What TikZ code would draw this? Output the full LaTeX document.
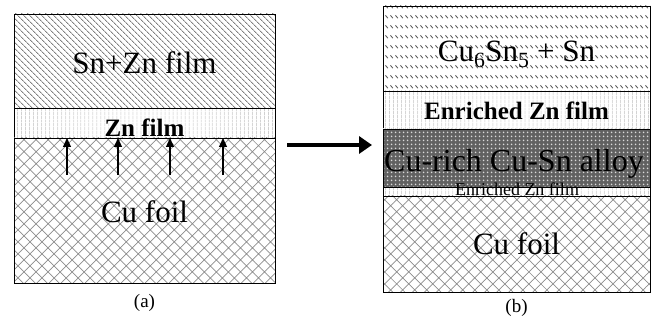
\documentclass[tikz,border=0pt]{standalone}
\usepackage{fontspec}
\setmainfont{Liberation Serif}
\usetikzlibrary{arrows.meta,positioning,patterns.meta}

% rows of short slanted dashes for the Cu6Sn5 layer
\pgfdeclarepattern{
  name=dashrows,
  type=uncolored,
  bottom left={\pgfpoint{0pt}{0pt}},
  top right={\pgfpoint{5pt}{10pt}},
  tile size={\pgfpoint{5pt}{10pt}},
  code={
    \pgfsetlinewidth{1pt}
    \pgfpathmoveto{\pgfpoint{0.5pt}{5pt}}
    \pgfpathlineto{\pgfpoint{3.5pt}{2pt}}
    \pgfusepath{stroke}
  }
}

\tikzset{
  layer/.style={draw, line width=0.8pt, inner sep=0pt, outer sep=0pt, anchor=north},
  snzn/.style={pattern={Lines[angle=-45,distance=4pt,line width=1pt]}, pattern color=black!50},
  znfilm/.style={pattern={Lines[angle=90,distance=4pt,line width=0.7pt]}, pattern color=black!30},
  cufoil/.style={pattern={Hatch[angle=45,distance=8.5pt,line width=0.7pt]}, pattern color=black!45},
  cusn/.style={pattern=dashrows, pattern color=black!65},
  curich/.style={preaction={fill=black!62}, pattern={Dots[distance=4pt,radius=1.1pt]}, pattern color=white!85!black},
  txt/.style={anchor=base, inner sep=0pt, font=\fontsize{31pt}{31pt}\selectfont},
  boldtxt/.style={anchor=base, inner sep=0pt, font=\bfseries\fontsize{25pt}{25pt}\selectfont},
  panellabel/.style={anchor=base, inner sep=0pt, font=\fontsize{19pt}{19pt}\selectfont},
  push/.style={line width=1.2pt, -{Triangle[length=9pt,width=8pt]}}
}

\begin{document}
\begin{tikzpicture}[x=1pt,y=-1pt]
  \useasboundingbox (0,0) rectangle (657,320);

  % (a) as deposited
  \node[layer, snzn, minimum width=261pt, minimum height=94pt] (snznA) at (144.5,14) {};
  \node[layer, znfilm, minimum width=261pt, minimum height=30pt] (znA) at (144.5,108) {};
  \node[layer, cufoil, minimum width=261pt, minimum height=145pt] (cuA) at (144.5,138) {};
  \node[txt] (snznAtxt) at (144.5,74) {Sn+Zn film};
  \node[boldtxt] (znAtxt) at (144.5,137) {Zn film};
  \node[txt] (cuAtxt) at (144.5,223) {Cu foil};
  \node[panellabel] (labelA) at (144.5,308) {(a)};

  \foreach \x [count=\i] in {67,118,170,223} {
    \coordinate (foot\i) at (\x,175);
    \draw[push] (foot\i) -- (foot\i |- cuA.north);
  }

  % (b) after reaction
  \node[layer, cusn, minimum width=267pt, minimum height=85pt] (cusnB) at (516.5,6) {};
  \node[layer, znfilm, minimum width=267pt, minimum height=38pt] (znB) at (516.5,91) {};
  \node[layer, curich, minimum width=267pt, minimum height=58pt] (curichB) at (516.5,129) {};
  \node[layer, znfilm, minimum width=267pt, minimum height=9pt] (thinB) at (516.5,187) {};
  \node[layer, cufoil, minimum width=267pt, minimum height=96pt] (cuB) at (516.5,196) {};
  \node[txt] (cusnBtxt) at (516.5,62) {Cu\textsubscript{6}Sn\textsubscript{5} + Sn};
  \node[boldtxt] (znBtxt) at (516.5,120) {Enriched Zn film};
  \node[txt, font=\fontsize{32pt}{32pt}\selectfont] (curichBtxt) at (514,172) {Cu-rich Cu-Sn alloy};
  \node[anchor=base, inner sep=0pt, font=\fontsize{18pt}{18pt}\selectfont] (thinBtxt) at (517,196) {Enriched Zn film};
  \node[txt] (cuBtxt) at (516.5,255) {Cu foil};
  \node[panellabel] (labelB) at (516.5,313) {(b)};

  % big arrow between the panels
  \coordinate (go) at (287,145);
  \coordinate (stop) at (372,145);
  \draw[line width=4.5pt, -{Triangle[length=13pt,width=17pt]}] (go) -- (stop);
\end{tikzpicture}
\end{document}
